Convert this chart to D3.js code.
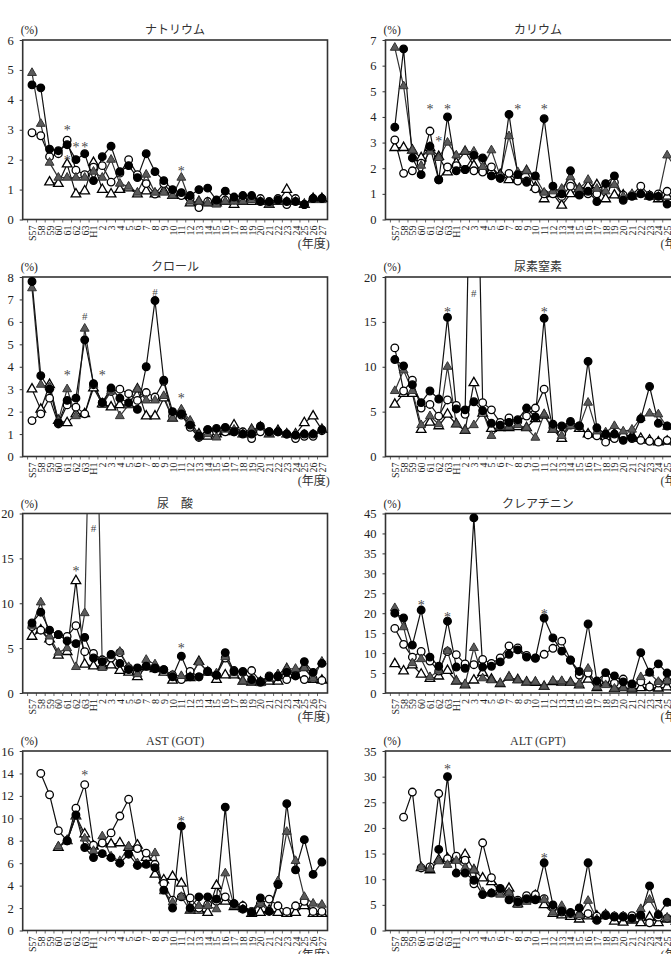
<!DOCTYPE html>
<html><head><meta charset="utf-8">
<script src="https://cdn.jsdelivr.net/npm/d3@7"></script>
<style>
html,body{margin:0;padding:0;background:#fff;overflow:hidden;}
svg{display:block;font-family:"Liberation Serif","Times New Roman","Noto Sans CJK JP",serif;}
</style></head>
<body>
<svg id="chart" width="671" height="954"></svg>
<script>
// ---------- data ----------
const categories = ["S57","58","59","60","61","62","63","H1","2","3","4","5","6","7","8","9","10","11","12","13","14","15","16","17","18","19","20","21","22","23","24","25","26","27"];
const seriesKeys = ["filledCircle","openCircle","filledTriangle","openTriangle"];

// ナトリウム
const sodiumFilledCircle = [4.5,4.4,2.35,2.3,2.5,2.0,2.2,1.3,2.1,2.45,1.6,1.8,1.4,2.2,1.6,1.3,1.0,0.9,0.8,1.0,1.05,0.65,0.95,0.75,0.8,0.8,0.6,0.6,0.65,0.6,0.6,0.5,0.7,0.7];
const sodiumOpenCircle = [2.9,2.8,2.1,2.2,2.65,1.65,1.5,1.75,1.8,1.25,1.55,2.0,1.5,1.2,0.85,1.2,0.85,0.8,0.7,0.4,0.6,0.6,0.65,0.65,0.65,0.7,0.7,0.55,0.7,0.5,0.7,0.5,0.7,0.7];
const sodiumFilledTriangle = [4.9,3.2,1.9,1.4,1.4,1.4,1.4,1.6,1.4,2.0,1.2,1.1,0.9,1.5,0.9,0.9,0.8,1.4,0.6,0.6,0.55,0.5,0.6,0.6,0.6,0.65,0.6,0.5,0.6,0.6,0.6,0.5,0.65,0.65];
const sodiumOpenTriangle = [null,null,1.25,1.2,1.85,0.85,0.95,1.9,1.0,0.85,1.0,1.05,0.85,0.95,0.85,0.95,0.8,0.8,0.55,0.6,0.55,0.55,0.6,0.5,0.6,0.6,0.6,0.5,0.6,1.0,0.6,0.5,0.7,0.7];
const sodiumMarks = [{i:4,v:3.05,t:"*"},{i:4,v:2.05,t:"*"},{i:5,v:2.5,t:"*"},{i:6,v:2.5,t:"*"},{i:17,v:1.7,t:"*"}];

// カリウム
const potassiumFilledCircle = [3.6,6.65,2.4,1.75,2.85,1.55,4.0,1.9,1.95,2.5,2.4,1.7,1.6,4.1,1.75,1.45,1.7,3.93,1.3,1.0,1.9,0.95,1.1,0.7,1.4,1.7,0.75,0.9,1.0,0.9,0.9,0.6,0.8,0.8];
const potassiumOpenCircle = [3.1,1.8,1.9,2.2,3.45,1.55,2.05,2.1,1.95,1.9,1.85,2.05,1.7,1.8,1.5,1.5,1.2,1.0,1.0,0.9,1.3,1.0,1.0,1.0,1.2,1.45,0.95,0.95,1.3,0.95,1.0,1.1,1.0,1.0];
const potassiumFilledTriangle = [6.7,5.2,2.7,2.1,2.65,2.4,3.0,2.5,2.65,2.65,2.05,2.7,1.7,3.25,1.85,1.9,1.65,1.05,1.1,1.2,1.65,1.2,1.55,1.2,1.1,1.35,0.9,1.0,1.0,0.9,0.9,2.5,2.0,2.0];
const potassiumOpenTriangle = [2.8,2.8,2.7,2.4,2.8,2.45,1.85,2.2,2.65,2.1,1.95,1.9,1.75,1.55,1.6,1.9,1.25,0.8,1.0,0.55,1.0,1.2,1.3,1.35,0.8,0.95,0.95,0.9,1.0,0.9,0.8,0.9,0.9,0.9];
const potassiumMarks = [{i:4,v:4.4,t:"*"},{i:5,v:3.15,t:"*"},{i:6,v:4.4,t:"*"},{i:14,v:4.4,t:"*"},{i:17,v:4.4,t:"*"}];

// クロール
const chlorideFilledCircle = [7.8,3.6,3.0,1.5,2.5,2.6,5.2,3.25,2.4,3.05,2.6,2.4,2.1,4.0,6.95,3.4,2.0,1.9,1.4,0.9,1.2,1.25,1.3,1.1,1.0,1.0,1.35,1.1,1.1,1.0,0.95,1.0,1.0,1.2];
const chlorideOpenCircle = [1.6,1.9,2.6,1.45,2.3,2.2,1.9,3.2,2.4,2.9,3.0,2.8,2.5,2.85,2.65,3.35,1.8,1.85,1.3,0.85,1.2,1.1,1.1,1.1,1.1,0.8,1.1,1.1,1.1,1.0,0.8,0.9,0.9,1.15];
const chlorideFilledTriangle = [7.5,3.2,3.1,1.6,3.0,1.8,5.7,3.2,2.3,2.9,1.8,2.3,3.0,2.5,2.5,2.7,1.7,2.1,1.6,0.95,1.0,0.85,1.2,1.2,1.0,1.2,1.3,1.0,1.1,1.0,1.0,1.0,1.0,1.2];
const chlorideOpenTriangle = [3.0,2.1,3.2,1.6,1.5,1.9,1.9,3.05,2.35,2.2,2.3,2.3,3.0,1.8,1.8,2.6,1.7,2.0,1.5,1.0,0.9,1.0,1.1,1.4,1.0,1.2,1.3,1.0,1.15,1.0,1.0,1.5,1.8,1.2];
const chlorideMarks = [{i:4,v:3.7,t:"*"},{i:6,v:6.3,t:"#"},{i:8,v:3.7,t:"*"},{i:14,v:7.35,t:"#"},{i:17,v:2.7,t:"*"}];

// 尿素窒素
const ureaFilledCircle = [10.8,10.1,8.0,6.0,7.3,6.4,15.5,5.3,5.2,6.1,5.1,3.7,3.5,3.8,4.1,5.4,4.4,15.4,3.6,3.4,3.9,3.4,10.6,3.2,2.5,2.5,1.8,2.1,4.2,7.8,3.7,3.4,3.7,3.5];
const ureaOpenCircle = [12.1,7.3,8.5,5.4,5.8,4.5,6.3,5.7,4.7,55,6.0,5.2,3.8,4.3,3.9,4.5,5.4,7.5,3.2,2.5,3.5,3.4,2.4,2.3,1.6,2.0,2.2,2.0,1.8,1.7,1.6,1.8,1.6,1.6];
const ureaFilledTriangle = [7.3,9.6,7.3,3.5,4.5,3.6,10.0,3.6,2.9,3.5,5.0,2.3,3.3,3.3,3.5,3.2,2.1,4.7,3.0,2.3,3.4,3.3,6.0,2.8,2.7,3.4,2.8,3.0,4.3,4.8,4.7,3.3,3.0,3.0];
const ureaOpenTriangle = [5.8,7.0,7.0,3.0,3.8,3.4,4.7,3.6,2.9,8.2,4.8,3.1,3.2,3.2,3.3,3.2,4.2,4.6,3.0,2.0,3.5,3.1,2.5,2.5,2.2,2.5,2.4,2.3,2.0,1.8,1.6,1.7,1.6,1.5];
const ureaMarks = [{i:6,v:16.3,t:"*"},{i:9,v:18.3,t:"#"},{i:17,v:16.3,t:"*"}];

// 尿酸
const uricFilledCircle = [7.8,9.0,7.0,6.5,5.8,5.5,6.2,3.9,3.5,4.3,3.3,2.6,2.8,3.0,2.8,2.6,1.8,4.1,1.8,1.8,2.4,2.0,4.5,2.4,2.4,1.5,1.2,1.8,1.9,2.3,1.9,3.5,2.3,3.3];
const uricOpenCircle = [7.4,7.0,5.8,6.5,6.3,7.5,4.6,4.4,3.7,3.9,4.5,2.8,2.3,3.0,2.7,2.6,2.0,1.5,2.4,1.8,2.4,2.0,3.9,2.5,2.3,2.5,1.3,1.9,1.8,1.5,2.0,1.5,1.6,1.4];
const uricFilledTriangle = [7.5,10.1,6.3,4.5,5.0,2.9,8.9,50,2.8,4.1,4.6,2.9,2.1,3.7,3.2,2.5,2.0,1.9,1.8,3.4,2.4,2.2,4.0,2.2,1.3,1.3,1.1,1.6,2.1,2.7,2.7,2.8,1.6,3.5];
const uricOpenTriangle = [6.3,7.0,6.0,4.2,4.6,12.5,3.2,3.0,3.0,3.1,2.5,2.3,1.8,2.9,2.7,2.3,1.4,1.7,1.7,3.5,2.3,1.5,2.0,2.0,1.3,1.2,1.2,1.3,1.3,2.7,2.0,2.8,1.5,1.4];
const uricMarks = [{i:5,v:13.8,t:"*"},{i:7,v:18.4,t:"#"},{i:17,v:5.2,t:"*"}];

// クレアチニン
const creatFilledCircle = [20.0,18.8,12.0,20.8,9.0,6.7,18.0,6.5,6.2,43.9,6.5,6.7,7.8,9.7,10.8,9.0,8.7,18.8,13.8,10.5,8.2,5.4,17.3,3.0,5.1,4.3,2.8,2.3,10.1,5.2,7.3,5.0,6.0,5.0];
const creatOpenCircle = [16.2,12.2,9.0,10.4,8.0,5.5,10.4,9.6,7.3,7.1,8.4,7.4,8.8,11.8,11.3,9.4,8.8,9.7,11.2,13.0,8.3,4.5,5.0,2.5,3.5,2.5,3.5,2.0,2.8,1.5,2.5,3.0,3.0,3.0];
const creatFilledTriangle = [21.3,16.5,7.5,8.5,4.0,5.6,10.5,3.0,2.2,11.3,3.7,3.2,2.4,4.0,3.2,2.7,2.8,1.6,3.0,3.0,2.6,2.3,6.1,1.5,2.0,1.1,1.3,1.1,4.0,5.0,2.8,3.0,3.5,3.0];
const creatOpenTriangle = [7.3,5.5,7.0,4.7,3.6,4.2,5.6,2.9,2.0,3.2,5.1,3.4,2.3,3.9,3.3,2.7,2.6,1.6,2.8,2.7,2.6,2.0,3.4,1.3,2.4,1.1,1.3,1.0,1.3,1.4,1.2,1.5,1.5,1.5];
const creatMarks = [{i:3,v:22.5,t:"*"},{i:6,v:19.6,t:"*"},{i:17,v:20.4,t:"*"}];

// AST (GOT)
const astFilledCircle = [null,null,null,null,8.0,10.3,7.4,6.5,6.85,6.5,6.0,6.8,5.8,5.9,5.6,3.6,2.0,9.3,2.0,3.0,3.0,2.8,11.0,2.4,1.9,1.6,2.9,1.7,4.1,11.3,5.4,8.1,5.0,6.1];
const astOpenCircle = [null,14.0,12.1,8.9,8.0,10.9,13.0,7.6,7.8,8.7,10.2,11.7,7.3,6.9,5.9,4.2,2.7,3.0,2.9,2.0,2.3,2.6,3.0,2.4,2.2,1.7,2.4,2.8,2.2,1.7,2.2,2.6,1.7,1.7];
const astFilledTriangle = [null,null,null,7.5,8.0,10.2,8.2,7.1,8.4,6.6,6.2,7.5,6.0,5.9,6.9,3.5,2.5,3.0,1.8,2.2,2.2,1.9,5.1,2.2,1.9,1.6,2.4,1.7,4.4,8.8,6.2,3.0,2.4,2.3];
const astOpenTriangle = [null,null,null,7.4,8.0,10.2,8.6,7.5,7.8,7.7,7.8,7.4,7.6,6.5,5.0,4.5,4.8,4.2,1.8,1.8,1.6,4.0,2.6,2.1,2.1,1.5,1.6,1.8,1.6,1.5,1.6,2.2,1.5,1.5];
const astMarks = [{i:6,v:14.0,t:"*"},{i:17,v:9.9,t:"*"}];

// ALT (GPT)
const altFilledCircle = [null,null,null,null,null,15.8,30.0,11.2,11.2,9.8,7.0,7.3,8.2,6.0,5.6,6.2,6.0,13.2,5.0,3.8,3.5,4.4,13.2,2.0,2.9,2.6,2.6,2.4,3.0,8.7,3.1,5.5,4.0,4.5];
const altOpenCircle = [null,22.1,27.0,12.2,12.4,26.7,14.0,14.5,13.7,9.1,17.1,10.3,8.1,7.2,5.9,6.8,7.0,6.2,4.6,3.6,3.3,2.9,3.3,2.8,3.1,2.8,2.8,2.9,2.8,1.5,2.6,2.4,2.0,1.8];
const altFilledTriangle = [null,null,null,12.3,12.0,13.5,12.8,13.6,12.2,11.8,7.5,7.2,7.0,7.4,5.0,5.6,6.0,6.0,3.5,4.8,3.2,3.0,5.8,2.2,3.0,2.8,2.8,2.1,4.2,6.0,3.1,2.5,2.0,2.0];
const altOpenTriangle = [null,null,null,12.2,11.8,13.8,14.0,13.8,14.8,11.8,10.2,9.5,7.5,8.2,5.2,6.0,6.8,5.0,3.3,3.0,2.7,2.2,2.8,2.8,3.0,1.8,1.6,2.0,1.5,2.6,1.5,2.2,1.8,1.8];
const altMarks = [{i:6,v:31.9,t:"*"},{i:17,v:14.5,t:"*"}];

const titles = ["ナトリウム","カリウム","クロール","尿素窒素","尿　酸","クレアチニン","AST (GOT)","ALT (GPT)"];
const yMaxes = [6,7,8,20,20,45,16,35];
const yTickSteps = [1,1,1,5,5,5,2,5];

// table built from the arrays
const panels = [
  [sodiumFilledCircle,sodiumOpenCircle,sodiumFilledTriangle,sodiumOpenTriangle,sodiumMarks],
  [potassiumFilledCircle,potassiumOpenCircle,potassiumFilledTriangle,potassiumOpenTriangle,potassiumMarks],
  [chlorideFilledCircle,chlorideOpenCircle,chlorideFilledTriangle,chlorideOpenTriangle,chlorideMarks],
  [ureaFilledCircle,ureaOpenCircle,ureaFilledTriangle,ureaOpenTriangle,ureaMarks],
  [uricFilledCircle,uricOpenCircle,uricFilledTriangle,uricOpenTriangle,uricMarks],
  [creatFilledCircle,creatOpenCircle,creatFilledTriangle,creatOpenTriangle,creatMarks],
  [astFilledCircle,astOpenCircle,astFilledTriangle,astOpenTriangle,astMarks],
  [altFilledCircle,altOpenCircle,altFilledTriangle,altOpenTriangle,altMarks]
].map((p,k)=>({title:titles[k], yMax:yMaxes[k], step:yTickSteps[k],
   series:{filledCircle:p[0],openCircle:p[1],filledTriangle:p[2],openTriangle:p[3]}, marks:p[4]}));

// ---------- layout ----------
const svg = d3.select("#chart");
const colX = [22.7, 385.5];
const rowY = [40, 277, 513.5, 751];
const plotW = 304.8, plotH = 179.5;
const lineColor = {filledCircle:"#111", openCircle:"#111", filledTriangle:"#333", openTriangle:"#111"};

panels.forEach((p, k) => {
  const x0 = colX[k % 2], y0 = rowY[Math.floor(k / 2)];
  const g = svg.append("g");
  const x = d3.scalePoint().domain(categories).range([x0 + 9.3, x0 + 299.2]);
  const step = x.step();
  const y = d3.scaleLinear().domain([0, p.yMax]).range([y0 + plotH, y0]);

  const clipId = "clip" + k;
  svg.append("clipPath").attr("id", clipId).append("rect")
    .attr("x", x0).attr("y", y0).attr("width", plotW).attr("height", plotH);

  // y axis
  const yAxis = d3.axisLeft(y).tickValues(d3.range(0, p.yMax + 0.001, p.step))
    .tickSize(3).tickPadding(6).tickFormat(d3.format("d"));
  const ya = g.append("g").attr("transform", `translate(${x0},0)`).call(yAxis);
  ya.select(".domain").remove();
  ya.selectAll("line").attr("stroke", "#333");
  ya.selectAll("text").attr("font-size", 12.5).attr("fill", "#222")
    .attr("font-family", "Liberation Serif, serif");

  // x axis labels
  const xAxis = d3.axisBottom(x).tickSize(0).tickPadding(0);
  const xa = g.append("g").attr("transform", `translate(0,${y0 + plotH})`).call(xAxis);
  xa.select(".domain").remove();
  xa.selectAll("text")
    .attr("font-size", 10).attr("fill", "#222").attr("font-family", "Liberation Serif, serif")
    .attr("text-anchor", "end")
    .attr("y", 0).attr("dy", "0.35em")
    .attr("transform", "translate(0,6) rotate(-90)");

  // x tick marks between categories
  g.append("g").selectAll("line").data(categories).join("line")
    .attr("x1", d => x(d) - step / 2).attr("x2", d => x(d) - step / 2)
    .attr("y1", y0 + plotH).attr("y2", y0 + plotH + 3)
    .attr("stroke", "#444").attr("stroke-width", 0.8);

  // frame
  g.append("rect").attr("x", x0).attr("y", y0).attr("width", plotW).attr("height", plotH)
    .attr("fill", "none").attr("stroke", "#333").attr("stroke-width", 1.6);

  // title, unit, year label
  g.append("text").attr("x", x0 + plotW / 2).attr("y", y0 - 6).attr("text-anchor", "middle")
    .attr("font-size", 12).attr("fill", "#333").text(p.title);
  g.append("text").attr("x", x0 - 2).attr("y", y0 - 6).attr("font-size", 11.5).attr("fill", "#222").text("(%)");
  g.append("text").attr("x", x0 + 275).attr("y", y0 + plotH + 28).attr("font-size", 12).attr("fill", "#333").text("(年度)");

  // lines
  const line = d3.line().defined(d => d.v != null).x(d => x(d.c)).y(d => y(d.v));
  const lg = g.append("g").attr("clip-path", `url(#${clipId})`);
  const drawOrder = ["openTriangle", "openCircle", "filledTriangle", "filledCircle"];
  drawOrder.forEach(key => {
    const pts = categories.map((c, i) => ({c, v: p.series[key][i]}));
    lg.append("path").datum(pts).attr("d", line).attr("fill", "none")
      .attr("stroke", lineColor[key]).attr("stroke-width", 1.2);
  });
  // markers
  drawOrder.forEach(key => {
    const pts = categories.map((c, i) => ({c, v: p.series[key][i]}))
      .filter(d => d.v != null && d.v <= p.yMax);
    const mg = g.append("g");
    if (key.endsWith("Circle")) {
      mg.selectAll("circle").data(pts).join("circle")
        .attr("cx", d => x(d.c)).attr("cy", d => y(d.v)).attr("r", 3.8)
        .attr("fill", key === "filledCircle" ? "#000" : "#fff")
        .attr("stroke", "#000").attr("stroke-width", 1.3);
    } else {
      const filled = key === "filledTriangle";
      const sym = d3.symbol(d3.symbolTriangle, filled ? 34 : 40);
      mg.selectAll("path").data(pts).join("path")
        .attr("d", sym).attr("transform", d => `translate(${x(d.c)},${y(d.v)})`)
        .attr("fill", filled ? "#5a5a5a" : "#fff")
        .attr("stroke", filled ? "#333" : "#000").attr("stroke-width", filled ? 1 : 1.3);
    }
  });

  // significance marks
  g.append("g").selectAll("text").data(p.marks).join("text")
    .attr("x", d => x(categories[d.i])).attr("y", d => y(d.v) + (d.t === "*" ? 7 : 4.5))
    .attr("text-anchor", "middle").attr("font-size", d => d.t === "*" ? 14 : 11)
    .attr("fill", "#4a4a4a").attr("font-family", "Liberation Serif, serif").text(d => d.t);
});
</script>
</body></html>
